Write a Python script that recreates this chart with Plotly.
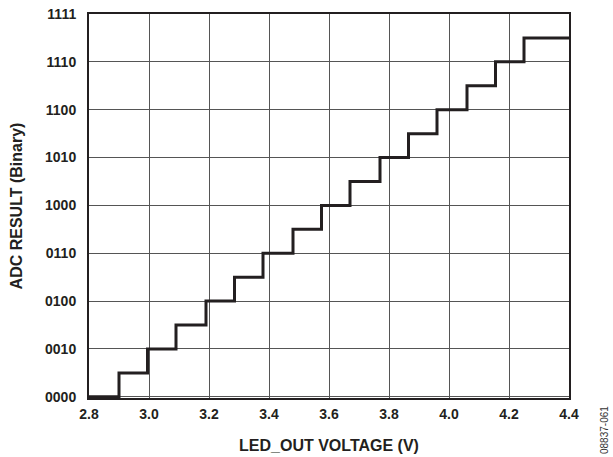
import plotly.graph_objects as go

# Transition voltages (V) where the ADC code increments
thresholds = [2.80, 2.90, 2.995, 3.09, 3.19, 3.285, 3.38, 3.48, 3.575,
              3.67, 3.77, 3.865, 3.96, 4.06, 4.155, 4.25, 4.40]
# ADC codes (decimal) held from each threshold
codes = [0, 1, 2, 3, 4, 5, 6, 7, 8, 9, 10, 11, 12, 13, 14, 15, 15]

y_tick_vals = [0, 2, 4, 6, 8, 10, 12, 14, 16]
y_tick_text = ["0000", "0010", "0100", "0110", "1000", "1010", "1100", "1110", "1111"]
x_tick_vals = [2.8, 3.0, 3.2, 3.4, 3.6, 3.8, 4.0, 4.2, 4.4]
x_tick_text = ["2.8", "3.0", "3.2", "3.4", "3.6", "3.8", "4.0", "4.2", "4.4"]

FONT = "Arial, Liberation Sans, sans-serif"
DARK = "#231f20"
L, R, T, B = 89, 44, 14, 59
W, H = 613, 457
PW, PH = W - L - R, H - T - B

fig = go.Figure()
fig.add_trace(go.Scatter(
    x=thresholds, y=codes, mode="lines",
    line=dict(shape="hv", color=DARK, width=3),
    showlegend=False, hoverinfo="skip",
))

tf = dict(family=FONT, size=14, color=DARK, weight="bold")
ttf = dict(family=FONT, size=16, color=DARK, weight="bold")
fig.update_layout(
    width=W, height=H,
    margin=dict(l=L, r=R, t=T, b=B, autoexpand=False),
    paper_bgcolor="white", plot_bgcolor="white",
    font=dict(family=FONT, color=DARK, size=14, weight="bold"),
    xaxis=dict(
        range=[2.8, 4.4], tickvals=x_tick_vals, ticktext=x_tick_text,
        showgrid=True, gridcolor="#555555", gridwidth=1,
        showline=True, linecolor=DARK, linewidth=2, mirror=True,
        ticks="", zeroline=False, automargin=False, ticklabelstandoff=2,
        tickfont=tf,
        title=dict(text="LED_OUT VOLTAGE (V)", standoff=19, font=ttf),
    ),
    yaxis=dict(
        range=[-0.05, 16], tickvals=y_tick_vals, ticktext=y_tick_text,
        showgrid=True, gridcolor="#555555", gridwidth=1,
        showline=True, linecolor=DARK, linewidth=2, mirror=True,
        ticks="", zeroline=False, ticklabelstandoff=8, automargin=False,
        tickfont=tf,
        title=dict(text="ADC RESULT (Binary)", standoff=18, font=ttf),
    ),
    annotations=[dict(
        text="08837-061",
        x=(604 - L) / PW, y=(H - B - 430) / PH,
        xref="paper", yref="paper", xanchor="center", yanchor="middle",
        showarrow=False, textangle=-90,
        font=dict(family=FONT, size=10, color="#333333", weight="normal"),
    )],
)

fig.write_html(
    "out.html",
    config={"displayModeBar": False, "staticPlot": True},
    post_script="document.body.style.margin='0';document.body.style.padding='0';",
)
